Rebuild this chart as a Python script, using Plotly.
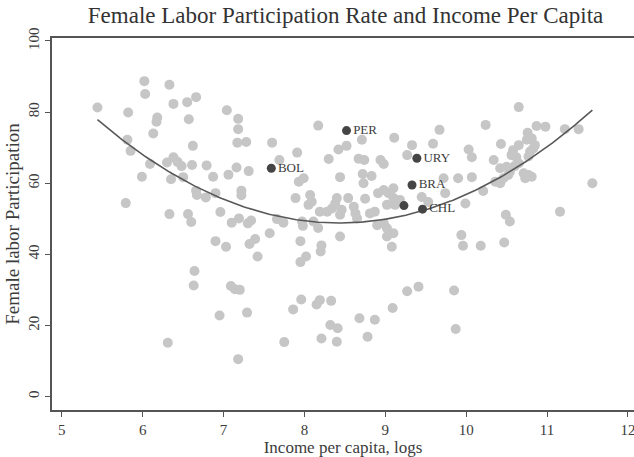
import numpy as np
import plotly.graph_objects as go

# Log income per capita and female labor participation (%), all countries
income_gray = [
    6.02, 6.33, 6.03, 5.44, 5.82, 6.38, 6.55, 6.66, 7.04, 7.18,
    6.18, 6.17, 6.57, 7.18, 6.13, 5.81, 5.85, 6.62, 7.17, 7.28,
    6.09, 6.30, 6.38, 6.43, 6.48, 6.61, 6.79, 7.16, 7.31, 5.99,
    6.35, 6.50, 6.87, 7.06, 6.66, 6.67, 6.78, 6.90, 7.22, 7.22,
    5.79, 6.33, 6.56, 6.60, 6.96, 7.10, 7.19, 7.30, 6.90, 7.03,
    7.32, 6.64, 6.63, 7.09, 7.14, 7.20, 6.95, 7.29, 6.31, 7.18,
    7.34, 7.66, 7.74, 7.97, 7.98, 8.17, 8.11, 8.65, 8.90, 8.98,
    9.02, 9.10, 9.02, 9.08, 7.39, 7.57, 7.95, 8.21, 8.20, 8.44,
    7.42, 7.95, 8.02, 7.96, 7.86, 8.19, 8.15, 8.33, 9.27, 9.41,
    9.09, 8.68, 8.87, 8.32, 8.41, 8.78, 7.75, 8.21, 8.40,
    7.89, 8.07, 8.05, 8.19, 8.28, 8.34, 8.38, 8.40, 8.46, 8.44,
    8.54, 8.61, 8.63, 8.75, 8.73, 8.81, 8.87, 8.91, 8.98, 9.04,
    9.10, 9.10, 9.02, 9.12, 9.18, 9.45, 9.53, 8.09,
    8.17, 7.60, 7.91, 7.69, 8.30, 8.42, 8.52, 8.71, 8.67, 8.74,
    8.94, 8.98, 9.11, 9.33, 9.27, 9.59, 9.67, 7.99, 7.93, 8.44,
    8.72, 8.83, 9.72,
    10.65, 10.24, 10.03, 10.07, 10.43, 10.87, 10.98, 10.76, 10.81, 10.75,
    10.85, 10.83, 10.79, 10.77, 10.65, 10.58, 10.56, 10.62, 11.22, 11.39,
    10.34, 10.42, 10.50, 10.54, 10.60, 10.65, 10.71, 10.77, 10.81, 10.73,
    10.36, 10.42, 10.46, 10.52, 9.90, 10.07, 11.56, 10.21, 9.74, 9.99,
    11.16, 10.49, 10.54, 9.94, 9.96, 10.18, 10.47,
    9.85, 9.87,
]
flp_gray = [
    88.7, 87.7, 85.1, 81.3, 79.9, 82.3, 82.8, 84.2, 80.5, 78.1,
    78.5, 77.3, 78.0, 75.2, 74.0, 72.2, 69.1, 70.5, 71.4, 71.6,
    65.4, 65.8, 67.3, 66.0, 64.8, 65.1, 65.0, 64.4, 63.4, 61.8,
    61.1, 61.7, 61.8, 62.4, 57.9, 56.7, 56.0, 57.2, 57.9, 56.6,
    54.4, 51.3, 51.3, 49.1, 51.9, 48.9, 50.1, 48.7, 43.7, 42.1,
    42.9, 35.3, 31.2, 31.1, 30.2, 30.0, 22.8, 23.6, 15.1, 10.5,
    49.5, 49.9, 48.9, 49.2, 48.0, 47.4, 49.2, 50.1, 48.2, 48.7,
    47.3, 45.9, 45.0, 42.1, 44.3, 45.9, 43.7, 42.5, 40.8, 45.0,
    39.4, 37.8, 39.4, 27.3, 24.5, 27.1, 25.9, 26.9, 29.6, 30.9,
    24.9, 22.0, 21.6, 20.1, 19.2, 16.8, 15.3, 16.3, 15.4,
    55.8, 56.7, 53.9, 52.0, 52.0, 52.9, 54.3, 55.8, 52.5, 51.1,
    55.8, 53.4, 51.5, 55.6, 60.0, 51.5, 52.0, 57.2, 58.1, 57.2,
    58.6, 55.8, 53.9, 53.9, 55.3, 56.1, 54.7, 54.8,
    76.2, 71.4, 68.6, 66.5, 66.8, 69.5, 70.5, 72.2, 66.9, 66.5,
    66.5, 65.4, 72.8, 70.7, 67.9, 71.1, 75.0, 61.4, 60.4, 61.7,
    62.6, 62.0, 61.4,
    81.4, 76.4, 69.5, 67.3, 71.0, 76.1, 75.9, 74.2, 72.6, 72.2,
    70.7, 69.8, 68.9, 67.5, 70.7, 69.3, 67.9, 67.3, 75.2, 75.2,
    66.5, 64.2, 64.6, 63.2, 64.8, 65.6, 62.8, 62.3, 61.8, 61.4,
    60.4, 60.0, 61.4, 62.3, 61.4, 61.7, 60.0, 57.8, 57.2, 54.3,
    52.0, 51.1, 49.2, 45.4, 42.4, 42.4, 43.3,
    29.8, 19.0,
]

# Highlighted Latin American countries
country_codes = ["BOL", "PER", "URY", "BRA", "", "CHL"]
income_hl = [7.59, 8.52, 9.39, 9.33, 9.23, 9.46]
flp_hl = [64.2, 74.8, 67.0, 59.5, 53.7, 52.7]

x_ticks = [5, 6, 7, 8, 9, 10, 11, 12]
y_ticks = [0, 20, 40, 60, 80, 100]

# Quadratic fit over all observations
x_all = np.array(income_gray + income_hl)
y_all = np.array(flp_gray + flp_hl)
coef = np.polyfit(x_all, y_all, 2)
x_fit = np.linspace(x_all.min(), x_all.max(), 200)
y_fit = np.polyval(coef, x_fit)

SERIF = "Liberation Serif, Times New Roman, serif"
INK = "#3c3c3c"

fig = go.Figure()
fig.add_trace(go.Scatter(
    x=income_gray, y=flp_gray, mode="markers",
    marker=dict(size=10, color="#c6c6c6", line=dict(width=0)),
    hoverinfo="skip", showlegend=False,
))
fig.add_trace(go.Scatter(
    x=x_fit, y=y_fit, mode="lines",
    line=dict(color="#585858", width=1.6),
    hoverinfo="skip", showlegend=False,
))
fig.add_trace(go.Scatter(
    x=income_hl, y=flp_hl, mode="markers+text",
    text=country_codes, textposition="middle right",
    textfont=dict(family=SERIF, size=13, color=INK),
    marker=dict(size=9, color="#454545", line=dict(width=0)),
    hoverinfo="skip", showlegend=False,
))

fig.update_layout(
    width=634, height=457,
    margin=dict(l=52, r=0, t=38, b=47),
    paper_bgcolor="white", plot_bgcolor="white",
    font=dict(family=SERIF, color=INK),
    title=dict(
        text="Female Labor Participation Rate and Income Per Capita",
        x=0.545, xanchor="center", y=0.968, yanchor="middle",
        font=dict(family=SERIF, size=23, color="#333333"),
    ),
)
fig.update_xaxes(
    range=[4.878, 12.075], tickvals=x_ticks, ticktext=[str(v) for v in x_ticks],
    ticklabeloverflow="allow",
    ticks="outside", ticklen=5, tickwidth=1.2, tickcolor="#555555",
    showline=True, linecolor="#555555", linewidth=1.5, mirror=True,
    showgrid=False, zeroline=False,
    tickfont=dict(family=SERIF, size=15, color=INK),
    title=dict(text="Income per capita, logs", standoff=3,
               font=dict(family=SERIF, size=17, color=INK)),
)
fig.update_yaxes(
    range=[-3.8, 100.84], tickvals=y_ticks, ticktext=[str(v) for v in y_ticks],
    tickangle=-90,
    ticks="outside", ticklen=5, tickwidth=1.2, tickcolor="#555555",
    showline=True, linecolor="#555555", linewidth=1.5,
    showgrid=False, zeroline=False,
    tickfont=dict(family=SERIF, size=15, color=INK),
    title=dict(text="Female labor Participation", standoff=2,
               font=dict(family=SERIF, size=19, color=INK)),
)

fig.write_html("out.html")
